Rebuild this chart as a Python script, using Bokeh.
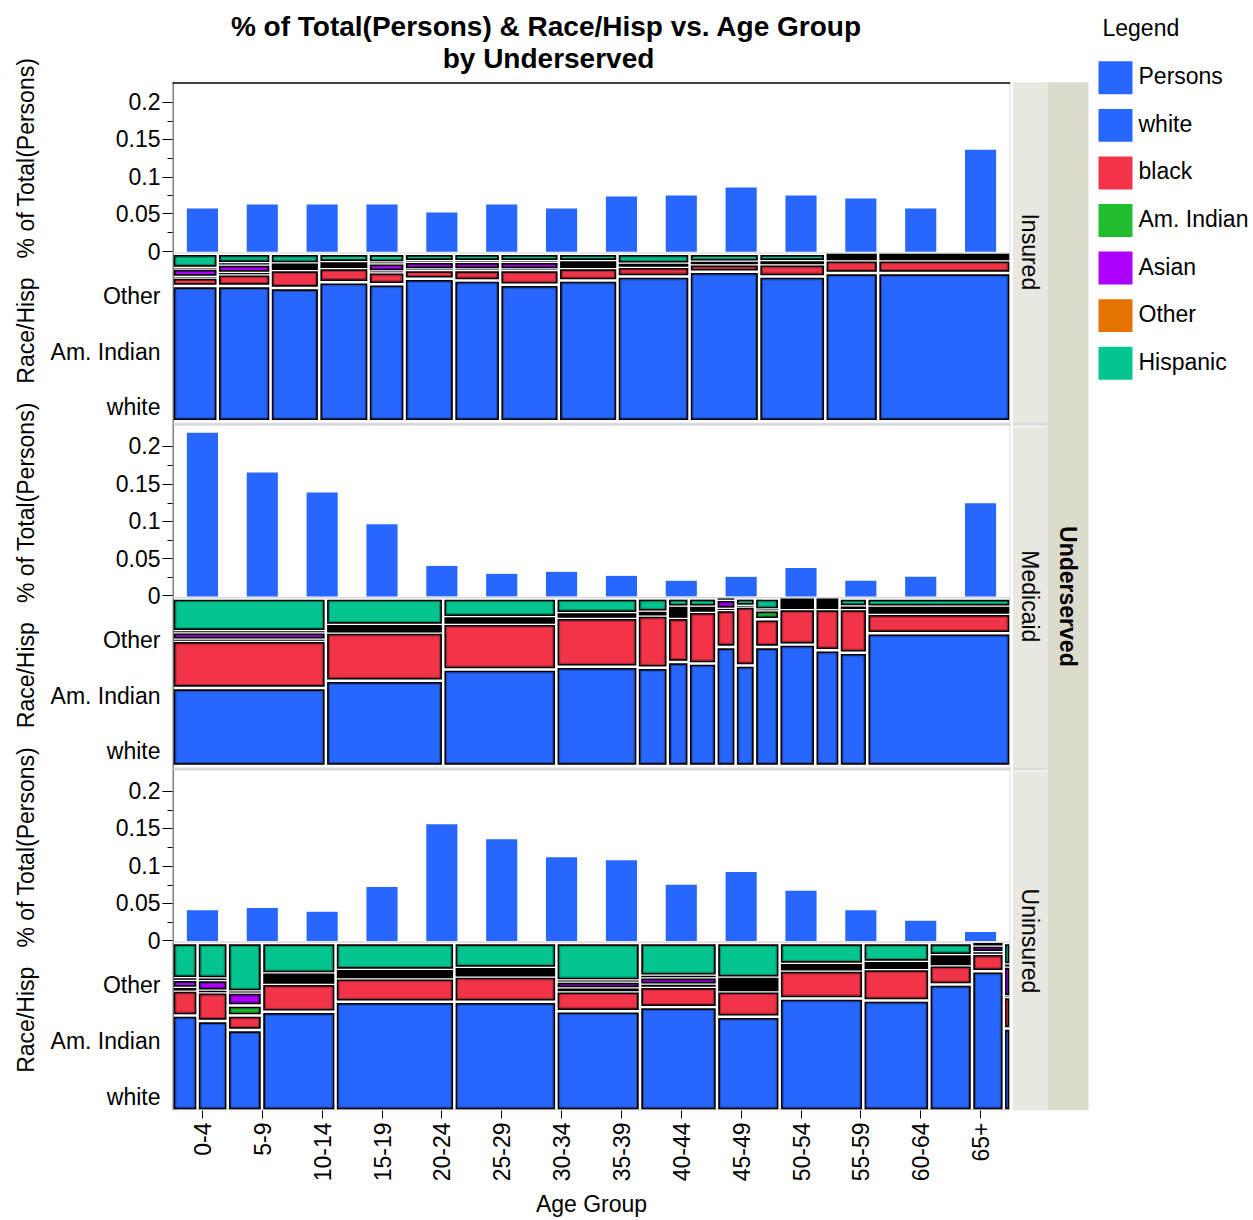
import math
from bokeh.plotting import figure
from bokeh.models import Range1d, LinearAxis, FixedTicker
from bokeh.layouts import row
from bokeh.embed import file_html
from bokeh.resources import INLINE
from bokeh.core.properties import value

# ---------------- data ----------------
age_groups = ["0-4", "5-9", "10-14", "15-19", "20-24", "25-29", "30-34",
              "35-39", "40-44", "45-49", "50-54", "55-59", "60-64", "65+"]
races = ["white", "black", "Am. Indian", "Asian", "Other", "Hispanic"]
underserved_levels = ["Insured", "Medicaid", "Uninsured"]

# % of Total(Persons) per age group
pct_persons_insured = [0.058, 0.0633, 0.0633, 0.0633, 0.0527, 0.0633, 0.058,
                       0.0739, 0.0753, 0.0859, 0.0753, 0.0713, 0.058, 0.1363]
pct_persons_medicaid = [0.2187, 0.1656, 0.139, 0.0965, 0.0407, 0.0301, 0.0328,
                        0.0274, 0.0208, 0.0261, 0.0381, 0.0208, 0.0261, 0.1244]
pct_persons_uninsured = [0.041, 0.044, 0.039, 0.072, 0.156, 0.136, 0.112,
                         0.108, 0.075, 0.092, 0.067, 0.041, 0.027, 0.012]

# mosaic column shares (width of each age group column)
col_share_insured = [0.054, 0.063, 0.058, 0.059, 0.043, 0.059, 0.055,
                     0.070, 0.070, 0.086, 0.083, 0.079, 0.063, 0.158]
col_share_medicaid = [0.183, 0.140, 0.135, 0.097, 0.036, 0.025, 0.033,
                      0.023, 0.023, 0.029, 0.043, 0.029, 0.033, 0.171]
col_share_uninsured = [0.030, 0.036, 0.041, 0.088, 0.142, 0.122, 0.100,
                       0.092, 0.075, 0.100, 0.079, 0.051, 0.038, 0.008]

# race/hisp shares within each column: white, black, Am. Indian, Asian, Other, Hispanic
race_mix_insured = [
    [0.808, 0.050, 0.004, 0.050, 0.004, 0.084],
    [0.808, 0.070, 0.008, 0.050, 0.008, 0.056],
    [0.796, 0.107, 0.012, 0.015, 0.012, 0.058],
    [0.831, 0.084, 0.010, 0.015, 0.010, 0.050],
    [0.819, 0.072, 0.004, 0.050, 0.004, 0.052],
    [0.851, 0.052, 0.003, 0.046, 0.003, 0.045],
    [0.841, 0.062, 0.003, 0.046, 0.003, 0.045],
    [0.815, 0.088, 0.003, 0.046, 0.003, 0.045],
    [0.841, 0.074, 0.012, 0.020, 0.008, 0.045],
    [0.865, 0.058, 0.004, 0.010, 0.004, 0.059],
    [0.893, 0.045, 0.004, 0.006, 0.004, 0.048],
    [0.865, 0.072, 0.006, 0.006, 0.006, 0.045],
    [0.885, 0.077, 0.008, 0.010, 0.008, 0.012],
    [0.885, 0.077, 0.008, 0.010, 0.008, 0.012],
]
race_mix_medicaid = [
    [0.465, 0.282, 0.006, 0.045, 0.006, 0.196],
    [0.508, 0.288, 0.012, 0.018, 0.015, 0.159],
    [0.576, 0.273, 0.010, 0.017, 0.012, 0.112],
    [0.592, 0.292, 0.008, 0.012, 0.008, 0.088],
    [0.586, 0.312, 0.006, 0.010, 0.006, 0.080],
    [0.620, 0.264, 0.021, 0.025, 0.020, 0.050],
    [0.612, 0.308, 0.010, 0.010, 0.010, 0.050],
    [0.710, 0.221, 0.006, 0.055, 0.003, 0.005],
    [0.600, 0.351, 0.001, 0.002, 0.001, 0.045],
    [0.710, 0.165, 0.054, 0.002, 0.002, 0.067],
    [0.724, 0.213, 0.015, 0.018, 0.015, 0.015],
    [0.690, 0.247, 0.015, 0.018, 0.015, 0.015],
    [0.676, 0.261, 0.007, 0.008, 0.000, 0.048],
    [0.792, 0.116, 0.015, 0.022, 0.005, 0.050],
]
race_mix_uninsured = [
    [0.567, 0.149, 0.015, 0.050, 0.008, 0.211],
    [0.534, 0.172, 0.008, 0.065, 0.009, 0.212],
    [0.480, 0.087, 0.060, 0.077, 0.006, 0.290],
    [0.589, 0.167, 0.020, 0.022, 0.020, 0.182],
    [0.649, 0.141, 0.012, 0.025, 0.012, 0.161],
    [0.649, 0.151, 0.012, 0.027, 0.012, 0.149],
    [0.593, 0.119, 0.016, 0.042, 0.006, 0.224],
    [0.617, 0.121, 0.012, 0.045, 0.009, 0.196],
    [0.560, 0.152, 0.020, 0.035, 0.025, 0.208],
    [0.669, 0.166, 0.013, 0.015, 0.012, 0.125],
    [0.657, 0.188, 0.014, 0.014, 0.014, 0.113],
    [0.752, 0.115, 0.020, 0.020, 0.020, 0.073],
    [0.831, 0.104, 0.010, 0.040, 0.005, 0.010],
    [0.490, 0.187, 0.004, 0.178, 0.012, 0.129],
]

bar_tick_values = [0, 0.05, 0.1, 0.15, 0.2]
bar_tick_labels = ["0", "0.05", "0.1", "0.15", "0.2"]
bar_minor_values = [0.025, 0.075, 0.125, 0.175]
race_axis_labels = ["white", "Am. Indian", "Other"]
legend_labels = ["Persons"] + races
title_lines = ["% of Total(Persons) & Race/Hisp vs. Age Group", "by Underserved"]

persons_color = "#2767FF"
race_colors = ["#2767FF", "#F23449", "#21BD2E", "#AC00FA", "#E57300", "#04C48F"]

pct_rows = [pct_persons_insured, pct_persons_medicaid, pct_persons_uninsured]
share_rows = [col_share_insured, col_share_medicaid, col_share_uninsured]
mix_rows = [race_mix_insured, race_mix_medicaid, race_mix_uninsured]

# ---------------- layout (page pixels) ----------------
FONT = "Liberation Sans"
W, H = 1253, 1220
LEFT_W = 40
MAIN_R = 1012                    # right edge of the main figure canvas
FRAME_L, PANEL_R = 172, 1010
FRAME_B = 1113
PANEL_T = 82
ROW_PITCH = 345.5
BAR_H = 170
MOS_GAP = 2
MOS_H = 168
BAR_TOP = 0.2266
PW = PANEL_R - FRAME_L
FH = FRAME_B


def my(sy):
    return FRAME_B - sy


def darken(h, f=0.72):
    h = h.lstrip("#")
    r, g, b = (int(h[i:i + 2], 16) for i in (0, 2, 4))
    return "#%02x%02x%02x" % (int(r * f), int(g * f), int(b * f))


extra_y = {}
tick_major, tick_minor, label_pos, label_map = [], [], [], {}
for r in range(3):
    T = PANEL_T + r * ROW_PITCH
    bb = my(T + BAR_H)
    k = BAR_H / BAR_TOP
    extra_y["bar%d" % r] = Range1d(-bb / k, (FH - bb) / k)
    mb = my(T + BAR_H + MOS_GAP + MOS_H)
    extra_y["mos%d" % r] = Range1d(-mb / MOS_H, (FH - mb) / MOS_H)
    for v, lab in zip(bar_tick_values, bar_tick_labels):
        t = int(round(bb + v * k))
        tick_major.append(t)
        label_pos.append(t)
        label_map[t] = lab
    for v in bar_minor_values:
        tick_minor.append(int(round(bb + v * k)))
    for lab in race_axis_labels:
        kk = races.index(lab)
        t = int(round(mb + (2 * kk + 1) / (2 * len(races)) * MOS_H))
        label_pos.append(t)
        label_map[t] = lab

age_idx = list(range(len(age_groups)))

p = figure(width=MAIN_R - LEFT_W, height=H, title=None,
           x_range=Range1d(FRAME_L, PANEL_R), y_range=Range1d(0, FH),
           extra_x_ranges={"bx": Range1d(-0.5, len(age_groups) - 0.5),
                           "mx": Range1d(0, 1)},
           extra_y_ranges=extra_y,
           output_backend="svg", toolbar_location=None,
           min_border_left=FRAME_L - LEFT_W, min_border_right=MAIN_R - PANEL_R,
           min_border_top=0, min_border_bottom=H - FRAME_B,
           x_axis_location=None, y_axis_location=None, outline_line_color=None)
p.grid.visible = False

ax_in = LinearAxis(ticker=FixedTicker(ticks=tick_major, minor_ticks=tick_minor),
                   major_label_overrides={t: "" for t in tick_major},
                   major_label_standoff=0, major_label_text_font_size="1px",
                   major_label_text_alpha=0,
                   major_tick_out=10, major_tick_in=0, minor_tick_out=5, minor_tick_in=0,
                   axis_line_color=None, major_tick_line_color="black",
                   minor_tick_line_color="black")
p.add_layout(ax_in, "left")
ax_out = LinearAxis(ticker=FixedTicker(ticks=label_pos, minor_ticks=[]),
                    major_label_overrides=label_map, major_label_standoff=2,
                    major_tick_out=0, major_tick_in=0, minor_tick_out=0, minor_tick_in=0,
                    axis_line_color=None, major_tick_line_color=None,
                    minor_tick_line_color=None,
                    major_label_text_font=FONT, major_label_text_font_size="23px",
                    major_label_text_color="black")
p.add_layout(ax_out, "left")

xa = LinearAxis(x_range_name="bx", ticker=FixedTicker(ticks=age_idx, minor_ticks=[]),
                major_label_overrides={i: a for i, a in zip(age_idx, age_groups)},
                major_label_orientation=math.pi / 2,
                major_label_text_font=FONT, major_label_text_font_size="23px",
                major_label_text_color="black", major_label_standoff=4,
                major_tick_out=8, major_tick_in=0, minor_tick_line_color=None,
                axis_line_color=None, major_tick_line_color="black",
                axis_label="Age Group", axis_label_text_font=FONT,
                axis_label_text_font_size="23px", axis_label_text_font_style="normal",
                axis_label_text_color="black", axis_label_standoff=7)
p.add_layout(xa, "below")

# y axis line, separators and panel lines
p.segment(x0=[FRAME_L + 0.5], x1=[FRAME_L + 0.5], y0=[my(PANEL_T)], y1=[0],
          line_color="black", line_width=1)
for r in range(3):
    T = PANEL_T + r * ROW_PITCH
    p.quad(left=[FRAME_L], right=[PANEL_R], bottom=[my(T + BAR_H + 1.8)],
           top=[my(T + BAR_H + 0.6)], fill_color="#D4D4D4", line_color=None)
    if r < 2:
        p.quad(left=[FRAME_L + 1], right=[PANEL_R], bottom=[my(T + 344.5)],
               top=[my(T + 341.5)], fill_color="#DADADA", line_color=None)
p.quad(left=[PANEL_R - 1], right=[PANEL_R], bottom=[0], top=[my(PANEL_T)],
       fill_color="#D0D0D0", line_color=None)
p.quad(left=[FRAME_L], right=[PANEL_R], bottom=[0], top=[1.2],
       fill_color="#C8C8C8", line_color=None)
p.quad(left=[FRAME_L], right=[PANEL_R], bottom=[my(PANEL_T + 1.5)], top=[my(PANEL_T)],
       fill_color="black", line_color=None)

# bars
for r in range(3):
    p.vbar(x=age_idx, top=pct_rows[r], bottom=0, width=0.52, x_range_name="bx",
           y_range_name="bar%d" % r, fill_color=persons_color, line_color=None)

# mosaics
GX, GY = 1.25 / PW, 1.25 / MOS_H
BX, BY = 1.75 / PW, 1.75 / MOS_H
TINY = 6.5 / MOS_H
for r in range(3):
    shares, mix = share_rows[r], mix_rows[r]
    tot = sum(shares)
    blk = dict(l=[], r=[], b=[], t=[])
    col = dict(l=[], r=[], b=[], t=[], c=[])
    inn = dict(l=[], r=[], b=[], t=[], c=[])
    acc = 0.0
    for j, w in enumerate(shares):
        x0, x1 = acc / tot, (acc + w) / tot
        acc += w
        s = sum(mix[j])
        cells, ya = [], 0.0
        for kk, f in enumerate(mix[j]):
            cells.append((ya / s, (ya + f) / s, kk))
            ya += f
        i = 0
        while i < len(cells):
            y0, y1, kk = cells[i]
            if y1 - y0 <= TINY:
                run0 = y0
                while i < len(cells) and cells[i][1] - cells[i][0] <= TINY:
                    run1 = cells[i][1]
                    i += 1
                if run1 - run0 > 0:
                    blk["l"].append(x0 + GX); blk["r"].append(x1 - GX)
                    blk["b"].append(run0); blk["t"].append(run1)
                continue
            blk["l"].append(x0 + GX); blk["r"].append(x1 - GX)
            blk["b"].append(y0 + GY); blk["t"].append(y1 - GY)
            col["l"].append(x0 + GX + BX); col["r"].append(x1 - GX - BX)
            col["b"].append(y0 + GY + BY); col["t"].append(y1 - GY - BY)
            col["c"].append(race_colors[kk])
            if y1 - y0 > 2 * (GY + BY) + 3.0 / MOS_H:
                ex, ey = 0.5 / PW, 0.5 / MOS_H
                inn["l"].append(x0 + GX + BX + ex); inn["r"].append(x1 - GX - BX - ex)
                inn["b"].append(y0 + GY + BY + ey); inn["t"].append(y1 - GY - BY - ey)
                inn["c"].append(darken(race_colors[kk]))
            i += 1
    yr = "mos%d" % r
    p.quad(left=blk["l"], right=blk["r"], bottom=blk["b"], top=blk["t"],
           x_range_name="mx", y_range_name=yr, fill_color="black", line_color=None)
    p.quad(left=col["l"], right=col["r"], bottom=col["b"], top=col["t"],
           x_range_name="mx", y_range_name=yr, fill_color=col["c"], line_color=None)
    p.quad(left=inn["l"], right=inn["r"], bottom=inn["b"], top=inn["t"],
           x_range_name="mx", y_range_name=yr, fill_color=None, line_color=inn["c"],
           line_width=1)

# title
p.text(x=[546, 548], y=[my(26), my(58)], text=title_lines, text_align="center",
       text_baseline="middle", text_font=value(FONT), text_font_size=value("28px"),
       text_font_style="bold", text_color="black")

# ---------------- right figure: strips + legend ----------------
pr = figure(width=W - MAIN_R, height=H, title=None, x_range=Range1d(MAIN_R, W),
            y_range=Range1d(0, FH), output_backend="svg", toolbar_location=None,
            min_border_left=0, min_border_right=0, min_border_top=0,
            min_border_bottom=H - FRAME_B, x_axis_location=None, y_axis_location=None,
            outline_line_color=None)
pr.grid.visible = False
strip_t = [PANEL_T + r * ROW_PITCH for r in range(3)]
pr.quad(left=[1012] * 3, right=[1047] * 3, top=[my(t) for t in strip_t],
        bottom=[my(t + 341.5) for t in strip_t], fill_color="#E8E8E0", line_color=None)
pr.quad(left=[1012] * 2, right=[1047] * 2, top=[my(t + 341.5) for t in strip_t[:2]],
        bottom=[my(t + 344.5) for t in strip_t[:2]], fill_color="#DADADA", line_color=None)
pr.quad(left=[1047], right=[1088], bottom=[my(FRAME_B)], top=[my(PANEL_T)],
        fill_color="#DCDACB", line_color=None)
pr.text(x=[1029.5] * 3, y=[my(t + 170) for t in strip_t], text=underserved_levels,
        angle=-math.pi / 2, text_align="center", text_baseline="middle",
        text_font=value(FONT), text_font_size=value("23px"), text_color="black")
pr.text(x=[1067], y=[my((PANEL_T + FRAME_B) / 2)], text=["Underserved"],
        angle=-math.pi / 2, text_align="center", text_baseline="middle",
        text_font=value(FONT), text_font_size=value("23px"),
        text_font_style="bold", text_color="black")
pr.text(x=[1102], y=[my(28)], text=["Legend"], text_align="left",
        text_baseline="middle", text_font=value(FONT), text_font_size=value("23px"),
        text_color="black")
leg_colors = [persons_color] + race_colors
cy = [77.5 + 47.7 * i for i in range(len(legend_labels))]
pr.quad(left=[1098] * len(cy), right=[1132] * len(cy),
        bottom=[my(c + 16.5) for c in cy], top=[my(c - 16.5) for c in cy],
        fill_color=leg_colors, line_color=None)
pr.text(x=[1138] * len(cy), y=[my(c - 1.5) for c in cy], text=legend_labels,
        text_align="left", text_baseline="middle", text_font=value(FONT),
        text_font_size=value("23px"), text_color="black")

# ---------------- left figure: axis titles per panel ----------------
pl = figure(width=LEFT_W, height=H, title=None, x_range=Range1d(0, LEFT_W),
            y_range=Range1d(0, FH), output_backend="svg", toolbar_location=None,
            min_border_left=0, min_border_right=0, min_border_top=0,
            min_border_bottom=H - FRAME_B, x_axis_location=None, y_axis_location=None,
            outline_line_color=None)
pl.grid.visible = False
ax_titles, ax_y = [], []
for r in range(3):
    T = PANEL_T + r * ROW_PITCH
    ax_titles += ["% of Total(Persons)", "Race/Hisp"]
    ax_y += [my(T + 76), my(T + 249)]
pl.text(x=[25] * len(ax_titles), y=ax_y, text=ax_titles, angle=math.pi / 2,
        text_align="center", text_baseline="middle", text_font=value(FONT),
        text_font_size=value("23px"), text_color="black")

layout = row(pl, p, pr)
open("out.html", "w").write(file_html(layout, INLINE))
